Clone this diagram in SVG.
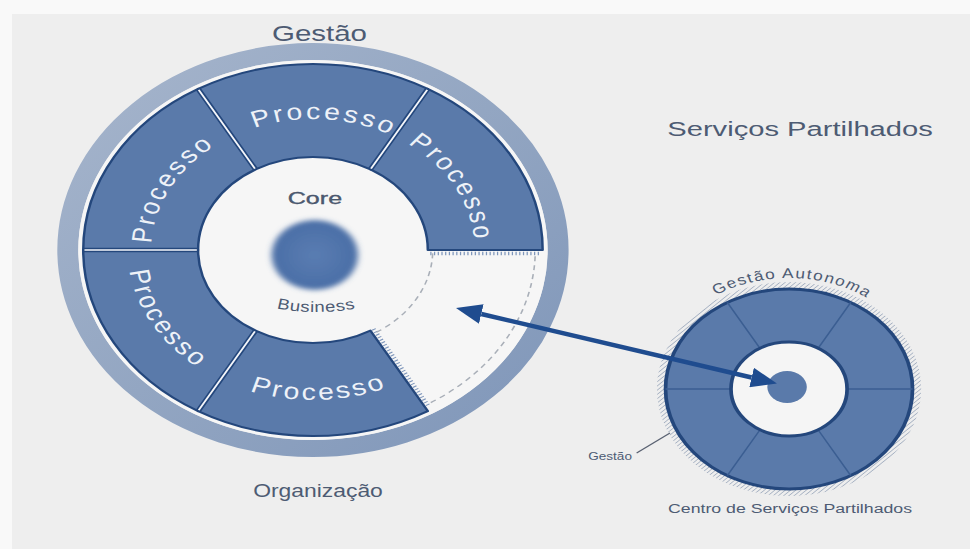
<svg xmlns="http://www.w3.org/2000/svg" xmlns:xlink="http://www.w3.org/1999/xlink" width="970" height="549" viewBox="0 0 970 549">
  <style>
    .lbl { font-family: "Liberation Sans", Arial, sans-serif; fill: #4d5b73; }
    .proc { font-family: "Liberation Sans", Arial, sans-serif; font-size: 23px; letter-spacing: 2.4px; fill: #eef2f8; }
    .seg { fill: #5a7aaa; stroke: #24477c; stroke-width: 2; stroke-linejoin: round; }
    .divDark { stroke: #24477c; stroke-width: 4.5; }
    .divLight { stroke: #f4f6fa; stroke-width: 1.6; }
    .spoke { stroke: #3b5e92; stroke-width: 1.3; }
    .dash { fill: none; stroke: #a9afb8; stroke-width: 1.3; stroke-dasharray: 5 4; }
    .tick { stroke: #7d95ba; stroke-width: 3.5; stroke-dasharray: 1 2; }
  </style>
  <defs>
    <linearGradient id="ringGrad" x1="0" y1="0" x2="1" y2="1">
      <stop offset="0" stop-color="#a6b5cc"/>
      <stop offset="0.5" stop-color="#93a6c2"/>
      <stop offset="1" stop-color="#7f96b9"/>
    </linearGradient>
    <radialGradient id="ballGrad" cx="0.5" cy="0.5" r="0.5">
      <stop offset="0" stop-color="#5a7db2"/>
      <stop offset="1" stop-color="#4a6ea6"/>
    </radialGradient>
    <filter id="soft" x="-30%" y="-30%" width="160%" height="160%">
      <feGaussianBlur stdDeviation="2.5"/>
    </filter>
    <pattern id="hatch" patternUnits="userSpaceOnUse" width="3" height="3" patternTransform="rotate(45)">
      <line x1="0" y1="0" x2="0" y2="3" stroke="#8c9bb2" stroke-width="1.1"/>
    </pattern>
    <marker id="head" markerUnits="userSpaceOnUse" markerWidth="26" markerHeight="20" viewBox="0 0 26 20" refX="0" refY="10" orient="auto-start-reverse">
      <path d="M0,0 L26,10 L0,20 Z" fill="#1f4c8f"/>
    </marker>
    <!-- label baselines for the wheel (relative to wheel centre) -->
    <path id="pTop" d="M-80.65,-103.23 A131,131 0 0 1 87.66,-97.35"/>
    <path id="pTopLeft" d="M-128.14,27.24 A131,131 0 0 1 -49.07,-121.46"/>
    <path id="pTopRight" d="M46.95,-122.30 A131,131 0 0 1 128.59,25.0"/>
    <path id="pBotLeft" d="M-147.72,-26.05 A150,150 0 0 0 -51.3,140.95"/>
    <path id="pBot" d="M-92.35,118.2 A150,150 0 0 0 100.37,111.47"/>
    <path id="pBusiness" d="M-57.4,49.5 A150,150 0 0 0 62.6,49.5"/>
    <path id="pAuto" d="M-104.3,-37.96 A111,111 0 0 1 104.3,-37.96"/>
  </defs>

  <!-- page and panel -->
  <rect x="0" y="0" width="970" height="549" fill="#f9f9f9"/>
  <rect x="12" y="14" width="958" height="535" fill="#eeeeee"/>

  <g transform="scale(1.235 1)">
    <g id="title-gestao">
      <text class="lbl" x="258.7" y="41.5" font-size="22" text-anchor="middle" textLength="77" lengthAdjust="spacingAndGlyphs">Gestão</text>
    </g>
    <g id="title-organizacao">
      <text class="lbl" x="257.5" y="497" font-size="18.5" text-anchor="middle" textLength="105" lengthAdjust="spacingAndGlyphs">Organização</text>
    </g>
    <g id="title-servicos">
      <text class="lbl" x="647.8" y="136.5" font-size="21" text-anchor="middle" textLength="215" lengthAdjust="spacingAndGlyphs">Serviços Partilhados</text>
    </g>

    <!-- organisation wheel -->
    <g id="organizacao" transform="translate(253.4 250)">
      <circle r="198.5" fill="none" stroke="url(#ringGrad)" stroke-width="17"/>
      <circle r="190" fill="#f6f6f6"/>

      <g id="processo-top"><path class="seg" d="M-93,-161.08 A186,186 0 0 1 93,-161.08 L46.5,-80.54 A93,93 0 0 0 -46.5,-80.54 Z"/>
        <text class="proc" text-anchor="middle"><textPath xlink:href="#pTop" href="#pTop" startOffset="52.4%">Processo</textPath></text></g>
      <g id="processo-top-left"><path class="seg" d="M-186,0 A186,186 0 0 1 -93,-161.08 L-46.5,-80.54 A93,93 0 0 0 -93,0 Z"/>
        <text class="proc" text-anchor="middle"><textPath xlink:href="#pTopLeft" href="#pTopLeft" startOffset="50%">Processo</textPath></text></g>
      <g id="processo-top-right"><path class="seg" d="M93,-161.08 A186,186 0 0 1 186,0 L93,0 A93,93 0 0 0 46.5,-80.54 Z"/>
        <text class="proc" text-anchor="middle"><textPath xlink:href="#pTopRight" href="#pTopRight" startOffset="50%">Processo</textPath></text></g>
      <g id="processo-bottom-left"><path class="seg" d="M-93,161.08 A186,186 0 0 1 -186,0 L-93,0 A93,93 0 0 0 -46.5,80.54 Z"/>
        <text class="proc" text-anchor="middle"><textPath xlink:href="#pBotLeft" href="#pBotLeft" startOffset="50%">Processo</textPath></text></g>
      <g id="processo-bottom"><path class="seg" d="M93,161.08 A186,186 0 0 1 -93,161.08 L-46.5,80.54 A93,93 0 0 0 46.5,80.54 Z"/>
        <text class="proc" text-anchor="middle"><textPath xlink:href="#pBot" href="#pBot" startOffset="50%">Processo</textPath></text></g>

      <!-- separators between process sectors -->
      <g>
        <path class="divDark" d="M-93,0 L-186,0 M-46.5,-80.54 L-93,-161.08 M46.5,-80.54 L93,-161.08 M-46.5,80.54 L-93,161.08"/>
        <path class="divLight" d="M-94,0 L-185,0 M-47,-81.4 L-92.5,-160.2 M47,-81.4 L92.5,-160.2 M-47,81.4 L-92.5,160.2"/>
      </g>

      <!-- vacant sector (outsourced to shared services) -->
      <g id="setor-livre">
        <line class="tick" x1="95" y1="3.5" x2="184" y2="3.5"/>
        <line class="tick" x1="49.1" y1="79" x2="94" y2="156.8"/>
        <path class="dash" d="M96.94,3.39 A97,97 0 0 1 51.4,82.26"/>
        <path class="dash" d="M179.9,6.28 A180,180 0 0 1 95.4,152.65"/>
      </g>

      <!-- core business -->
      <g id="core-business">
        <circle cx="1.5" cy="5" r="35" fill="url(#ballGrad)" filter="url(#soft)"/>
        <text class="lbl" x="1.6" y="-46" font-size="16" fill="#3e4b60" stroke="#3e4b60" stroke-width="0.3" text-anchor="middle" textLength="44" lengthAdjust="spacingAndGlyphs">Core</text>
        <text class="lbl" font-size="15" letter-spacing="0.5" text-anchor="middle"><textPath xlink:href="#pBusiness" href="#pBusiness" startOffset="50%">Business</textPath></text>
      </g>
    </g>

    <!-- shared services centre -->
    <g id="centro-servicos" transform="translate(638.9 389)">
      <circle r="103.5" fill="none" stroke="url(#hatch)" stroke-width="7"/>
      <circle r="100" fill="#5a7aaa" stroke="#24477c" stroke-width="3"/>
      <path class="spoke" d="M47,0 L100,0 M23.5,40.7 L50,86.6 M-23.5,40.7 L-50,86.6 M-47,0 L-100,0 M-23.5,-40.7 L-50,-86.6 M23.5,-40.7 L50,-86.6"/>
      <circle r="47" fill="#f5f5f5" stroke="#24477c" stroke-width="3"/>
      <circle cx="-1.6" cy="-2" r="16" fill="#5a7aaa"/>
      <text class="lbl" font-size="14" letter-spacing="1.2" fill="#5b6b86" text-anchor="middle"><textPath xlink:href="#pAuto" href="#pAuto" startOffset="51%">Gestão Autonoma</textPath></text>
    </g>

    <g id="gestao-nota">
      <line x1="515.5" y1="453" x2="542.5" y2="433" stroke="#5a6272" stroke-width="1"/>
      <text class="lbl" x="494" y="460" font-size="11" fill="#6a7892" text-anchor="middle">Gestão</text>
    </g>
    <g id="centro-label">
      <text class="lbl" x="639.7" y="513" font-size="13.5" fill="#56667f" text-anchor="middle" textLength="197.6" lengthAdjust="spacingAndGlyphs">Centro de Serviços Partilhados</text>
    </g>
  </g>

  <!-- connector: two-way link between the vacant sector and the centre -->
  <g id="connectors">
    <line x1="481.3" y1="313.95" x2="751.6" y2="377.5" stroke="#1f4c8f" stroke-width="4.5" marker-start="url(#head)" marker-end="url(#head)"/>
  </g>
</svg>
